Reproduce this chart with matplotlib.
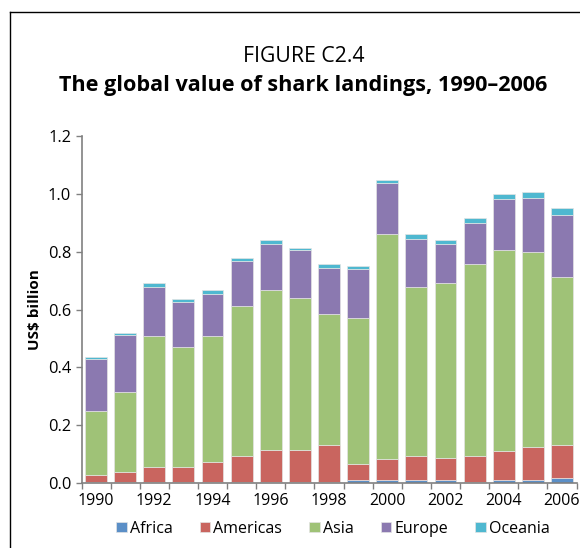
import matplotlib
matplotlib.use("Agg")
import matplotlib.pyplot as plt
import numpy as np
from matplotlib.lines import Line2D

plt.rcParams['font.family'] = ['Open Sans', 'DejaVu Sans']

years = list(range(1990, 2007))
africa = [0.003, 0.003, 0.003, 0.003, 0.003, 0.003, 0.003, 0.003, 0.003,
          0.012, 0.012, 0.012, 0.012, 0.004, 0.012, 0.012, 0.016]
americas = [0.025, 0.036, 0.053, 0.053, 0.069, 0.091, 0.112, 0.112, 0.128,
            0.054, 0.070, 0.082, 0.075, 0.090, 0.099, 0.114, 0.115]
asia = [0.221, 0.276, 0.453, 0.415, 0.437, 0.518, 0.553, 0.525, 0.454,
        0.503, 0.780, 0.585, 0.604, 0.663, 0.695, 0.674, 0.582]
europe = [0.180, 0.197, 0.169, 0.156, 0.146, 0.154, 0.160, 0.165, 0.160,
          0.170, 0.175, 0.165, 0.137, 0.143, 0.176, 0.187, 0.214]
oceania = [0.006, 0.006, 0.013, 0.009, 0.013, 0.013, 0.012, 0.008, 0.012,
           0.012, 0.011, 0.018, 0.012, 0.016, 0.017, 0.018, 0.024]

series = [("Africa", africa, "#5b8fc7"),
          ("Americas", americas, "#c9655f"),
          ("Asia", asia, "#9fc277"),
          ("Europe", europe, "#8b79b0"),
          ("Oceania", oceania, "#4fb8d0")]

fig = plt.figure(figsize=(5.8, 5.48), dpi=100)
ax = fig.add_axes([81.5/580, 65/548, 495/580, 347/548])

x = np.array(years)
bottom = np.zeros(len(years))
for name, vals, col in series:
    ax.bar(x, vals, width=0.75, bottom=bottom, color=col, label=name,
           edgecolor='#e4e4e4', linewidth=0.5)
    bottom += np.array(vals)

ax.set_xlim(1989.5, 2006.5)
ax.set_ylim(0, 1.2)
ax.set_yticks(np.arange(0, 1.21, 0.2))
ax.set_yticklabels(["%.1f" % v for v in np.arange(0, 1.21, 0.2)], fontsize=11.8)

# category boundaries as tick marks, year labels in between
ax.set_xticks(np.arange(1989.5, 2007, 1))
ax.set_xticklabels([])
ax.set_xticks(years[::2], minor=True)
ax.set_xticklabels([str(y) for y in years[::2]], minor=True, fontsize=11.5)
ax.tick_params(axis='x', which='minor', length=0, pad=7)
ax.tick_params(axis='both', which='major', length=4, color='#808080', width=1)

for s in ['top', 'right']:
    ax.spines[s].set_visible(False)
for s in ['left', 'bottom']:
    ax.spines[s].set_color('#808080')
    ax.spines[s].set_linewidth(1.2)

ax.set_ylabel("US$ billion", fontsize=11, fontweight='bold', labelpad=4)

leg = ax.legend(loc='upper center', bbox_to_anchor=(0.508, -0.09), ncol=5,
                frameon=False, fontsize=11.5, handlelength=0.65, handleheight=0.65,
                handletextpad=0.2, columnspacing=1.7, borderaxespad=0)

fig.text(0.523, 1 - 57/548, "FIGURE C2.4", ha='center', va='center', fontsize=15.3)
fig.text(0.523, 1 - 85/548, "The global value of shark landings, 1990\u20132006",
         ha='center', va='center', fontsize=15.6, fontweight='bold')

# frame around the box
fig.add_artist(Line2D([10/580, 1.0], [1 - 12/548, 1 - 12/548], color='black', lw=1))
fig.add_artist(Line2D([10/580, 10/580], [0, 1 - 12/548], color='black', lw=1))

fig.savefig("out.png", dpi=100)
